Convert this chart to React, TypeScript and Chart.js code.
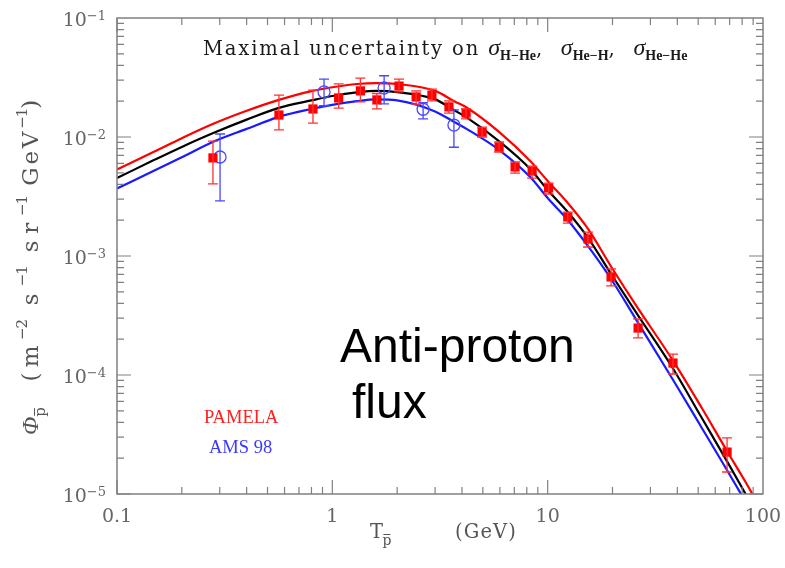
import React, { useEffect, useRef } from "react";
import { Chart, registerables } from "chart.js";

Chart.register(...registerables);

// ---- data ----
const pamelaX = [0.279, 0.565, 0.813, 1.07, 1.35, 1.61, 2.04, 2.45, 2.9, 3.48, 4.18, 4.96, 5.95, 7.06, 8.47, 10.1, 12.4, 15.4, 19.7, 26.3, 38.2, 68.1];
const pamelaY = [0.00667, 0.0153, 0.0172, 0.0213, 0.0244, 0.0205, 0.0268, 0.0217, 0.0225, 0.0179, 0.0159, 0.011, 0.00824, 0.0056, 0.00518, 0.00373, 0.00213, 0.00139, 0.000667, 0.000248, 0.000126, 0.0000225];
const pamelaHi = [0.00925, 0.0225, 0.0248, 0.0279, 0.0313, 0.0232, 0.0307, 0.0244, 0.0253, 0.0201, 0.0172, 0.0121, 0.00908, 0.00617, 0.0057, 0.0041, 0.00234, 0.00159, 0.000778, 0.000296, 0.00015, 0.0000296];
const pamelaLo = [0.00403, 0.0115, 0.0131, 0.0175, 0.0197, 0.0172, 0.0239, 0.0189, 0.0201, 0.0159, 0.0142, 0.01, 0.00748, 0.00498, 0.00452, 0.00332, 0.00189, 0.00119, 0.00056, 0.000205, 0.000102, 0.0000153];

const amsX = [0.301, 0.915, 1.74, 2.64, 3.67];
const amsY = [0.00679, 0.0239, 0.0258, 0.0171, 0.0126];
const amsHi = [0.0106, 0.0307, 0.0327, 0.0194, 0.0169];
const amsLo = [0.0029, 0.0183, 0.019, 0.0142, 0.0082];

const curveX = [0.1, 0.15, 0.2, 0.28, 0.4, 0.56, 0.8, 1, 1.3, 1.6, 2, 3, 3.7, 4.2, 6, 8.3, 10, 12.4, 15.4, 19.7, 26, 38, 52, 68, 83, 100];
const curveMax = [0.00533, 0.00759, 0.00977, 0.0129, 0.0166, 0.0204, 0.0243, 0.0262, 0.0279, 0.0284, 0.0279, 0.0244, 0.0199, 0.0177, 0.0109, 0.00628, 0.00427, 0.00279, 0.00169, 0.000816, 0.000373, 0.000134, 0.0000528, 0.000023, 0.0000126, 0.0000069];
const curveMed = [0.00452, 0.00646, 0.00826, 0.0108, 0.014, 0.0175, 0.0203, 0.0221, 0.0237, 0.0244, 0.0238, 0.0207, 0.0167, 0.0146, 0.0091, 0.00538, 0.00359, 0.00234, 0.00142, 0.000706, 0.000326, 0.000115, 0.0000435, 0.0000189, 0.00001, 0.0000055];
const curveMin = [0.00369, 0.00525, 0.00676, 0.00912, 0.0117, 0.0147, 0.0172, 0.0186, 0.02, 0.0207, 0.0203, 0.0164, 0.0133, 0.0117, 0.0077, 0.00461, 0.00307, 0.00201, 0.00121, 0.000641, 0.000284, 0.0000926, 0.0000359, 0.0000159, 0.0000086, 0.0000048];

const xMajorTicks = [0.1, 1, 10, 100];
const xTickLabels = ["0.1", "1", "10", "100"];
const yMajorTicks = [1e-5, 1e-4, 1e-3, 1e-2, 1e-1];
const yTickExponents = ["\u22125", "\u22124", "\u22123", "\u22122", "\u22121"];

const TYPE = "'DejaVu Serif', serif"; // typewriter-like serif, spaced to a fixed pitch
const SERIF = "'Liberation Serif', 'Times New Roman', serif";
const TICKFONT = "'DejaVu Serif', serif";

type Run = { t: string; font: string; dy?: number; adv?: number; bar?: boolean };

function runWidth(ctx: CanvasRenderingContext2D, r: Run) {
  ctx.font = r.font;
  (ctx as any).letterSpacing = "0px";
  const w0 = ctx.measureText(r.t).width;
  if (r.adv) return { w: r.adv * r.t.length, ls: (r.adv * r.t.length - w0) / r.t.length };
  return { w: w0, ls: 0 };
}

function drawRuns(ctx: CanvasRenderingContext2D, runs: Run[], x: number, y: number) {
  let cx = x;
  for (const r of runs) {
    const { w, ls } = runWidth(ctx, r);
    ctx.save();
    ctx.font = r.font;
    (ctx as any).letterSpacing = `${ls}px`;
    ctx.translate(cx, y + (r.dy || 0));
    ctx.fillText(r.t, 0, 0);
    if (r.bar) {
      const m = ctx.measureText(r.t);
      const top = -m.actualBoundingBoxAscent - 2.5;
      ctx.strokeStyle = ctx.fillStyle as string;
      ctx.lineWidth = 1;
      ctx.beginPath();
      ctx.moveTo(1, top);
      ctx.lineTo(w - 1, top);
      ctx.stroke();
    }
    ctx.restore();
    cx += w;
  }
  (ctx as any).letterSpacing = "0px";
  return cx - x;
}

function measureRuns(ctx: CanvasRenderingContext2D, runs: Run[]) {
  let w = 0;
  for (const r of runs) w += runWidth(ctx, r).w;
  return w;
}

const errorBarPlugin = {
  id: "errorBars",
  afterDatasetsDraw(chart: any) {
    const ctx: CanvasRenderingContext2D = chart.ctx;
    const xs = chart.scales.x;
    const ys = chart.scales.y;
    const drawSet = (X: number[], lo: number[], hi: number[], color: string, cap: number) => {
      ctx.save();
      ctx.strokeStyle = color;
      ctx.lineWidth = 1.3;
      for (let i = 0; i < X.length; i++) {
        const px = xs.getPixelForValue(X[i]);
        const p1 = ys.getPixelForValue(lo[i]);
        const p2 = ys.getPixelForValue(hi[i]);
        ctx.beginPath();
        ctx.moveTo(px, p1);
        ctx.lineTo(px, p2);
        ctx.moveTo(px - cap, p1);
        ctx.lineTo(px + cap, p1);
        ctx.moveTo(px - cap, p2);
        ctx.lineTo(px + cap, p2);
        ctx.stroke();
      }
      ctx.restore();
    };
    drawSet(pamelaX, pamelaLo, pamelaHi, "#ff3030", 5);
    drawSet(amsX, amsLo, amsHi, "#4848ff", 5);
  },
};

const decorPlugin = {
  id: "decor",
  afterDraw(chart: any) {
    const ctx: CanvasRenderingContext2D = chart.ctx;
    const { left, right, top, bottom } = chart.chartArea;
    const xs = chart.scales.x;
    const ys = chart.scales.y;
    ctx.save();
    // frame
    ctx.strokeStyle = "#808080";
    ctx.lineWidth = 1.5;
    ctx.strokeRect(left, top, right - left, bottom - top);
    ctx.lineWidth = 1.2;
    ctx.beginPath();
    for (let d = -1; d <= 1; d++) {
      for (let m = 1; m <= 9; m++) {
        const v = m * Math.pow(10, d);
        const px = xs.getPixelForValue(v);
        const len = m === 1 ? 14 : 7;
        ctx.moveTo(px, bottom);
        ctx.lineTo(px, bottom - len);
        ctx.moveTo(px, top);
        ctx.lineTo(px, top + len);
      }
    }
    for (let d = -5; d <= -2; d++) {
      for (let m = 1; m <= 9; m++) {
        const v = m * Math.pow(10, d);
        const py = ys.getPixelForValue(v);
        const len = m === 1 ? 14 : 7;
        ctx.moveTo(left, py);
        ctx.lineTo(left + len, py);
        ctx.moveTo(right, py);
        ctx.lineTo(right - len, py);
      }
    }
    ctx.stroke();

    // tick labels
    ctx.fillStyle = "#666666";
    ctx.textBaseline = "alphabetic";
    for (let i = 0; i < yMajorTicks.length; i++) {
      const py = ys.getPixelForValue(yMajorTicks[i]);
      const runs: Run[] = [
        { t: "10", font: `19px ${TICKFONT}` },
        { t: yTickExponents[i], font: `13px ${TICKFONT}`, dy: -6 },
      ];
      const w = measureRuns(ctx, runs);
      drawRuns(ctx, runs, 106 - w, py + 8);
    }
    ctx.textAlign = "center";
    ctx.font = `19px ${TICKFONT}`;
    for (let i = 0; i < xMajorTicks.length; i++) {
      const px = xs.getPixelForValue(xMajorTicks[i]);
      ctx.fillText(xTickLabels[i], px, 522);
    }
    ctx.textAlign = "left";

    // x axis title
    ctx.fillStyle = "#555555";
    drawRuns(ctx, [
      { t: "T", font: `19.5px ${TYPE}`, adv: 12.4 },
      { t: "p", font: `14px ${TYPE}`, dy: 7, bar: true },
    ], 370, 538);
    drawRuns(ctx, [{ t: "(GeV)", font: `19.5px ${TYPE}`, adv: 12.4 }], 455, 538);

    // y axis title (rotated)
    ctx.save();
    ctx.translate(38, 435);
    ctx.rotate(-Math.PI / 2);
    drawRuns(ctx, [
      { t: "\u03A6", font: `italic 24px ${SERIF}` },
      { t: "p", font: `15px ${TYPE}`, dy: 7, bar: true },
      { t: "  (m", font: `23px ${TYPE}`, adv: 16.8 },
      { t: "\u22122", font: `15px ${TYPE}`, dy: -11, adv: 10 },
      { t: " s", font: `23px ${TYPE}`, adv: 16.8 },
      { t: "\u22121", font: `15px ${TYPE}`, dy: -11, adv: 10 },
      { t: " sr", font: `23px ${TYPE}`, adv: 16.8 },
      { t: "\u22121", font: `15px ${TYPE}`, dy: -11, adv: 10 },
      { t: " GeV", font: `23px ${TYPE}`, adv: 16.8 },
      { t: "\u22121", font: `15px ${TYPE}`, dy: -11, adv: 10 },
      { t: ")", font: `23px ${TYPE}`, adv: 16.8 },
    ], 0, 0);
    ctx.restore();

    // top annotation
    ctx.fillStyle = "#1a1a1a";
    const mono = `19.5px ${TYPE}`;
    const sig = `italic 24px ${SERIF}`;
    const sub = `bold 14px ${SERIF}`;
    drawRuns(ctx, [
      { t: "Maximal uncertainty on ", font: mono, adv: 12.4 },
      { t: "\u03C3", font: sig },
      { t: "H\u2212He", font: sub, dy: 5 },
      { t: ", ", font: mono, adv: 12.4 },
      { t: "\u03C3", font: sig },
      { t: "He\u2212H", font: sub, dy: 5 },
      { t: ", ", font: mono, adv: 12.4 },
      { t: "\u03C3", font: sig },
      { t: "He\u2212He", font: sub, dy: 5 },
    ], 203, 55);

    // big annotation
    ctx.fillStyle = "#000000";
    ctx.font = "48px 'Liberation Sans', Arial, sans-serif";
    ctx.fillText("Anti-proton", 340, 362);
    ctx.fillText("flux", 352, 418);

    // legend texts
    ctx.font = `18.5px ${SERIF}`;
    ctx.fillStyle = "#ff2020";
    ctx.fillText("PAMELA", 204, 423);
    ctx.fillStyle = "#3a3aff";
    ctx.fillText("AMS 98", 209, 453);

    ctx.restore();
  },
};

export default function App() {
  const canvasRef = useRef<HTMLCanvasElement | null>(null);

  useEffect(() => {
    const canvas = canvasRef.current;
    if (!canvas) return;
    const toPts = (X: number[], Y: number[]) => X.map((x, i) => ({ x, y: Y[i] }));
    const chart = new Chart(canvas, {
      type: "scatter",
      data: {
        datasets: [
          {
            label: "PAMELA",
            data: toPts(pamelaX, pamelaY),
            pointStyle: "rect",
            pointRadius: 6.5,
            backgroundColor: "#ff0000",
            borderColor: "#ff0000",
            borderWidth: 0,
            showLine: false,
            order: 0,
          },
          {
            label: "AMS 98",
            data: toPts(amsX, amsY),
            pointStyle: "circle",
            pointRadius: 6,
            backgroundColor: "rgba(0,0,0,0)",
            borderColor: "#4848ff",
            borderWidth: 1.3,
            showLine: false,
            order: 0,
          },
          {
            label: "max",
            data: toPts(curveX, curveMax),
            showLine: true,
            pointRadius: 0,
            borderColor: "#ff0000",
            borderWidth: 2.2,
            cubicInterpolationMode: "monotone",
            order: 3,
          },
          {
            label: "med",
            data: toPts(curveX, curveMed),
            showLine: true,
            pointRadius: 0,
            borderColor: "#000000",
            borderWidth: 2.2,
            cubicInterpolationMode: "monotone",
            order: 2,
          },
          {
            label: "min",
            data: toPts(curveX, curveMin),
            showLine: true,
            pointRadius: 0,
            borderColor: "#1a1aff",
            borderWidth: 2.2,
            cubicInterpolationMode: "monotone",
            order: 1,
          },
        ],
      } as any,
      options: {
        animation: false,
        responsive: false,
        devicePixelRatio: 1,
        events: [],
        layout: { padding: { left: 0, right: 22, top: 18, bottom: 0 } },
        plugins: { legend: { display: false }, tooltip: { enabled: false } },
        scales: {
          x: {
            type: "logarithmic",
            min: 0.1,
            max: 100,
            ticks: { display: false },
            grid: { display: false },
            border: { display: false },
            afterFit: (s: any) => {
              s.height = 74;
            },
          },
          y: {
            type: "logarithmic",
            min: 1e-5,
            max: 0.1,
            ticks: { display: false },
            grid: { display: false },
            border: { display: false },
            afterFit: (s: any) => {
              s.width = 117;
            },
          },
        },
      } as any,
      plugins: [errorBarPlugin, decorPlugin],
    });
    return () => chart.destroy();
  }, []);

  return (
    <div style={{ position: "absolute", left: 0, top: 0, width: 785, height: 568, background: "#ffffff" }}>
      <canvas ref={canvasRef} width={785} height={568} style={{ display: "block", width: 785, height: 568 }} />
    </div>
  );
}
